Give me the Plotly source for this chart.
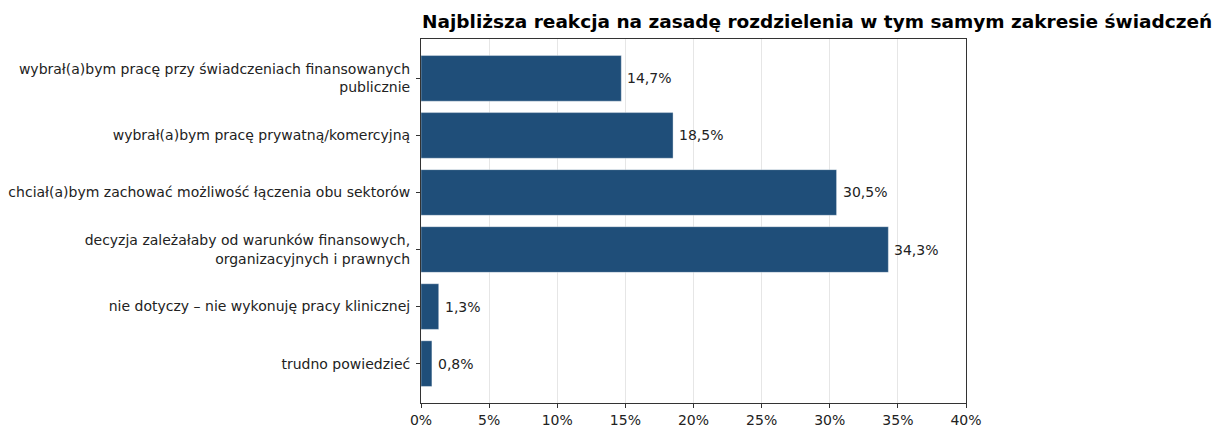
import plotly.graph_objects as go

categories = [
    "wybrał(a)bym pracę przy świadczeniach finansowanych<br>publicznie",
    "wybrał(a)bym pracę prywatną/komercyjną",
    "chciał(a)bym zachować możliwość łączenia obu sektorów",
    "decyzja zależałaby od warunków finansowych,<br>organizacyjnych i prawnych",
    "nie dotyczy – nie wykonuję pracy klinicznej",
    "trudno powiedzieć",
]
values = [14.7, 18.5, 30.5, 34.3, 1.3, 0.8]
labels = [f"{v:.1f}%".replace(".", ",") for v in values]
tick_vals = [0, 5, 10, 15, 20, 25, 30, 35, 40]
tick_text = [f"{t}%" for t in tick_vals]

W, H = 1222, 428
OFF = 8  # page body margin
FONT = "DejaVu Sans"
TXT = "#222"

fig = go.Figure(go.Bar(
    x=values,
    y=categories,
    orientation="h",
    marker=dict(color="#1f4e79", line=dict(color="rgba(255,255,255,0.6)", width=0.6)),
    cliponaxis=False,
))

# value labels just right of each bar end
for v, c, t in zip(values, categories, labels):
    fig.add_annotation(
        x=v, y=c, text=t, showarrow=False,
        xanchor="left", yanchor="middle", xshift=4,
        font=dict(family=FONT, size=14, color=TXT),
    )

fig.update_layout(
    width=W,
    height=H,
    margin=dict(l=421 - OFF, r=W - 966 + OFF, t=39 - OFF, b=H - 403 + OFF),
    plot_bgcolor="white",
    paper_bgcolor="white",
    bargap=0.2,
    showlegend=False,
    font=dict(family=FONT, size=14, color=TXT),
    title=dict(
        text="<b>Najbliższa reakcja na zasadę rozdzielenia w tym samym zakresie świadczeń</b>",
        x=(422 - OFF) / W,
        xanchor="left",
        xref="container",
        y=1 - (22 - OFF) / H,
        yanchor="middle",
        yref="container",
        font=dict(family=FONT, size=18.5, color="#000"),
    ),
)

fig.update_xaxes(
    automargin=False,
    range=[0, 40],
    tickvals=tick_vals,
    ticktext=tick_text,
    showgrid=True,
    gridcolor="rgba(200,200,200,0.45)",
    gridwidth=1,
    layer="above traces",
    showline=True,
    linecolor="#333",
    linewidth=1,
    mirror=True,
    ticks="outside",
    ticklen=4,
    tickcolor="#333",
    zeroline=False,
    tickfont=dict(family=FONT, size=14, color=TXT),
)
fig.update_yaxes(
    automargin=False,
    autorange=False,
    range=[5.69, -0.69],
    showgrid=False,
    showline=True,
    linecolor="#333",
    linewidth=1,
    mirror=True,
    ticks="outside",
    ticklen=4,
    tickcolor="#333",
    ticklabelstandoff=3,
    tickfont=dict(family=FONT, size=14, color=TXT),
)

fig.write_html("out.html")
